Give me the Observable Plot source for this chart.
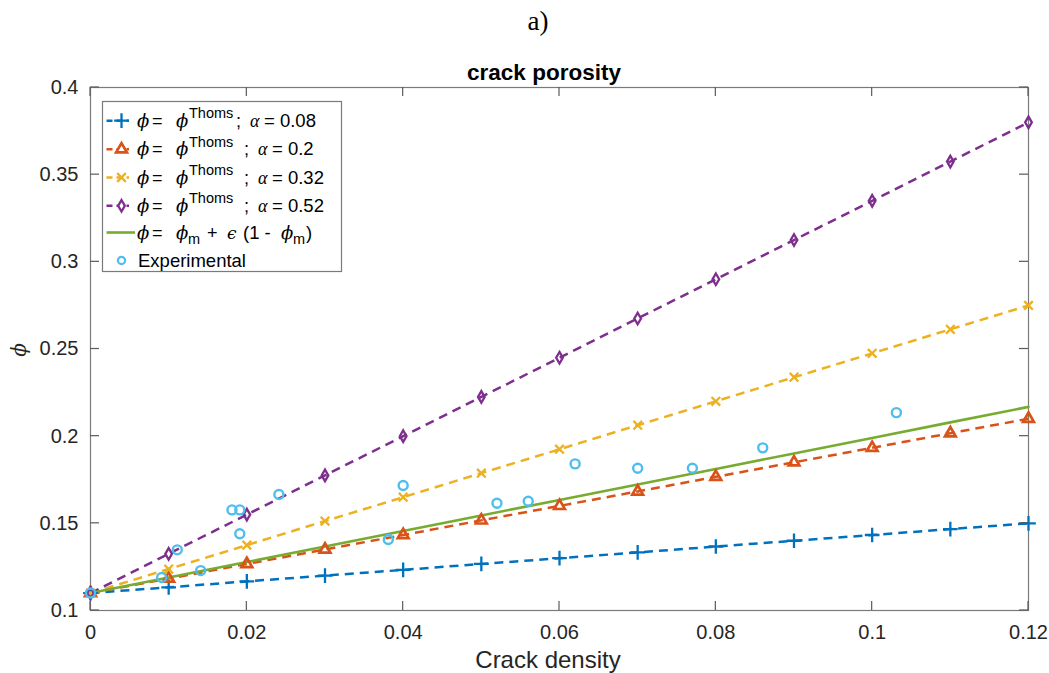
<!DOCTYPE html>
<html><head><meta charset="utf-8">
<script src="https://cdn.jsdelivr.net/npm/d3@7"></script>
<script src="https://cdn.jsdelivr.net/npm/@observablehq/plot@0.6"></script>
<style>html,body{margin:0;padding:0;background:#fff}svg{display:block}</style>
</head><body><div id="chart"></div>
<script>
// ---- data ----
const crackDensity = [0, 0.01, 0.02, 0.03, 0.04, 0.05, 0.06, 0.07, 0.08, 0.09, 0.10, 0.11, 0.12];
const phiThomsA008 = [0.11, 0.1133, 0.1167, 0.12, 0.1233, 0.1267, 0.13, 0.1333, 0.1367, 0.14, 0.1433, 0.1467, 0.15];
const phiThomsA020 = [0.11, 0.1183, 0.1267, 0.135, 0.1433, 0.1517, 0.16, 0.1683, 0.1767, 0.185, 0.1933, 0.2017, 0.21];
const phiThomsA032 = [0.11, 0.1238, 0.1375, 0.1513, 0.165, 0.1788, 0.1925, 0.2063, 0.22, 0.2338, 0.2475, 0.2613, 0.275];
const phiThomsA052 = [0.11, 0.1325, 0.155, 0.1775, 0.2, 0.2225, 0.245, 0.2675, 0.29, 0.3125, 0.335, 0.3575, 0.38];
const phiLinear    = [0.11, 0.1189, 0.1278, 0.1367, 0.1456, 0.1545, 0.1634, 0.1723, 0.1812, 0.1901, 0.199, 0.2079, 0.2168];
const expDensity = [0, 0.0091, 0.0111, 0.0141, 0.0181, 0.0191, 0.0191, 0.0241, 0.0381, 0.040, 0.052, 0.056, 0.062, 0.070, 0.077, 0.086, 0.1031];
const expPhi     = [0.11, 0.1189, 0.1348, 0.1229, 0.1577, 0.1577, 0.144, 0.1665, 0.1407, 0.1717, 0.1615, 0.1627, 0.1841, 0.1816, 0.1816, 0.1933, 0.2135];
const xTicks = [0, 0.02, 0.04, 0.06, 0.08, 0.1, 0.12];
const yTicks = [0.1, 0.15, 0.2, 0.25, 0.3, 0.35, 0.4];
const alphaLabels = ["0.08", "0.2", "0.32", "0.52"];

const thomsSeries = [
  {values: phiThomsA008, color: "#0072BD", symbol: "plus", r: 4.8, sw: 2.3},
  {values: phiThomsA020, color: "#D95319", symbol: "triangle", r: 4.0, sw: 2.7},
  {values: phiThomsA032, color: "#EDB120", symbol: "times", r: 4.0, sw: 2.3},
  {values: phiThomsA052, color: "#7E2F8E", symbol: "diamond", r: 3.5, sw: 2.3}
];
const greenColor = "#77AC30", expColor = "#4DBEEE";

const W = 1049, H = 673;
const fmt = d => String(Math.round(d * 100) / 100);

const marks = [];
thomsSeries.forEach(s => {
  const rows = crackDensity.map((x, i) => ({x, y: s.values[i]}));
  marks.push(Plot.line(rows, {x: "x", y: "y", stroke: s.color, strokeWidth: 2.5, strokeDasharray: "9,6", strokeLinecap: "butt"}));
});
const greenRows = crackDensity.map((x, i) => ({x, y: phiLinear[i]}));
marks.push(Plot.line(greenRows, {x: "x", y: "y", stroke: greenColor, strokeWidth: 2.6}));
thomsSeries.forEach(s => {
  const rows = crackDensity.map((x, i) => ({x, y: s.values[i]}));
  marks.push(Plot.dot(rows, {x: "x", y: "y", symbol: s.symbol, r: s.r, stroke: s.color, strokeWidth: s.sw, fill: "none"}));
});
const expRows = expDensity.map((x, i) => ({x, y: expPhi[i]}));
marks.push(Plot.dot(expRows, {x: "x", y: "y", r: 4.5, stroke: expColor, strokeWidth: 2.4, fill: "none"}));

const plot = Plot.plot({
  width: W, height: H,
  marginTop: 87, marginBottom: H - 610, marginLeft: 90, marginRight: W - 1028,
  style: {fontFamily: "'Liberation Sans', Arial, sans-serif", fontSize: "20px", color: "#262626", background: "#fff"},
  x: {domain: [0, 0.12]},
  y: {domain: [0.1, 0.4]},
  marks: [
    Plot.frame({stroke: "#7a7a7a", strokeWidth: 1.2}),
    Plot.axisX({ticks: xTicks, tickSize: 0, tickPadding: 14, tickFormat: fmt, label: null, fontSize: 20, fill: "#262626"}),
    Plot.axisY({ticks: yTicks, tickSize: 0, tickPadding: 12, tickFormat: fmt, label: null, fontSize: 20, fill: "#262626"}),
    ...marks
  ]
});
document.getElementById("chart").appendChild(plot);

// ---- inward ticks, labels, legend ----
const svg = d3.select(plot);
const xs = plot.scale("x"), ys = plot.scale("y");
const L = xs.apply(0), R = xs.apply(0.12), T = ys.apply(0.4), B = ys.apply(0.1);
const tk = svg.append("g").attr("stroke", "#5a5a5a").attr("stroke-width", 1.2);
xTicks.forEach(v => {
  const x = xs.apply(v);
  tk.append("line").attr("x1", x).attr("x2", x).attr("y1", B).attr("y2", B - 9);
  tk.append("line").attr("x1", x).attr("x2", x).attr("y1", T).attr("y2", T + 9);
});
yTicks.forEach(v => {
  const y = ys.apply(v);
  tk.append("line").attr("x1", L).attr("x2", L + 9).attr("y1", y).attr("y2", y);
  tk.append("line").attr("x1", R).attr("x2", R - 9).attr("y1", y).attr("y2", y);
});

const serif = "'Liberation Serif', 'DejaVu Serif', serif";
const sans = "'Liberation Sans', Arial, sans-serif";
const greek = "'DejaVu Serif', serif";
function txt(parent, x, y, s, size, opts = {}) {
  return parent.append("text").attr("x", x).attr("y", y).text(s)
    .attr("font-size", size).attr("font-family", opts.family || sans)
    .attr("font-style", opts.italic ? "italic" : null)
    .attr("font-weight", opts.bold ? "bold" : null)
    .attr("text-anchor", opts.anchor || "start")
    .attr("fill", opts.fill || "#262626");
}
txt(svg, 538, 30, "a)", 27, {family: serif, anchor: "middle", fill: "#000"});
txt(svg, 544, 80, "crack porosity", 22.5, {bold: true, anchor: "middle", fill: "#000"});
txt(svg, 548, 668, "Crack density", 24, {anchor: "middle"});
const yl = svg.append("g").attr("transform", "translate(26,350) rotate(-90)");
txt(yl, 0, 0, "\u03D5", 20, {family: greek, italic: true, anchor: "middle"});

// legend
const lg = svg.append("g").attr("text-anchor", "start");
lg.append("rect").attr("x", 102.5).attr("y", 101.5).attr("width", 239).attr("height", 170)
  .attr("fill", "#fff").attr("stroke", "#7a7a7a").attr("stroke-width", 1.2);
const rowsY = [120.7, 149.3, 177.5, 205.8, 232.5, 260.5];
const symMap = {plus: d3.symbolPlus, triangle: d3.symbolTriangle, times: d3.symbolTimes, diamond: d3.symbolDiamond};
const addText = (x, y, s, size, opts = {}) => txt(lg, x, y, s, size, Object.assign({fill: "#000"}, opts));
const phiChar = "\u03D5";
thomsSeries.forEach((s, i) => {
  const y = rowsY[i];
  lg.append("line").attr("x1", 106.5).attr("x2", 129).attr("y1", y).attr("y2", y)
    .attr("stroke", s.color).attr("stroke-width", 2.4).attr("stroke-dasharray", "6,4");
  lg.append("path").attr("d", d3.symbol(symMap[s.symbol], Math.PI * s.r * s.r)())
    .attr("transform", `translate(121.5,${y})`).attr("fill", "#fff").attr("stroke", s.color).attr("stroke-width", s.sw);
  addText(137, y + 6, phiChar, 18, {family: greek, italic: true});
  addText(152, y + 6, "=", 18);
  addText(176, y + 6, phiChar, 18, {family: greek, italic: true});
  addText(189, y - 2.5, "Thoms", 14.5);
  const xa = i === 0 ? 236 : 244;
  addText(xa, y + 6, ";", 18);
  addText(xa + 14, y + 6, "\u03B1", 18, {family: serif, italic: true});
  addText(xa + 28, y + 6, "= " + alphaLabels[i], 18.5);
});
{
  const y = rowsY[4];
  lg.append("line").attr("x1", 106.5).attr("x2", 135).attr("y1", y).attr("y2", y)
    .attr("stroke", greenColor).attr("stroke-width", 2.6);
  addText(137, y + 6, phiChar, 18, {family: greek, italic: true});
  addText(152, y + 6, "=", 18);
  addText(176, y + 6, phiChar, 18, {family: greek, italic: true});
  addText(188, y + 11.5, "m", 14.5);
  addText(207, y + 6, "+", 18);
  addText(227, y + 6, "\u03F5", 17, {family: greek, italic: true});
  addText(243, y + 6, "(1 -", 18.5);
  addText(281, y + 6, phiChar, 18, {family: greek, italic: true});
  addText(293, y + 11.5, "m", 14.5);
  addText(306, y + 6, ")", 18.5);
}
{
  const y = rowsY[5];
  lg.append("circle").attr("cx", 121.5).attr("cy", y).attr("r", 3.6)
    .attr("fill", "none").attr("stroke", expColor).attr("stroke-width", 2.2);
  addText(138, y + 6.5, "Experimental", 18.5);
}
</script>
</body></html>
